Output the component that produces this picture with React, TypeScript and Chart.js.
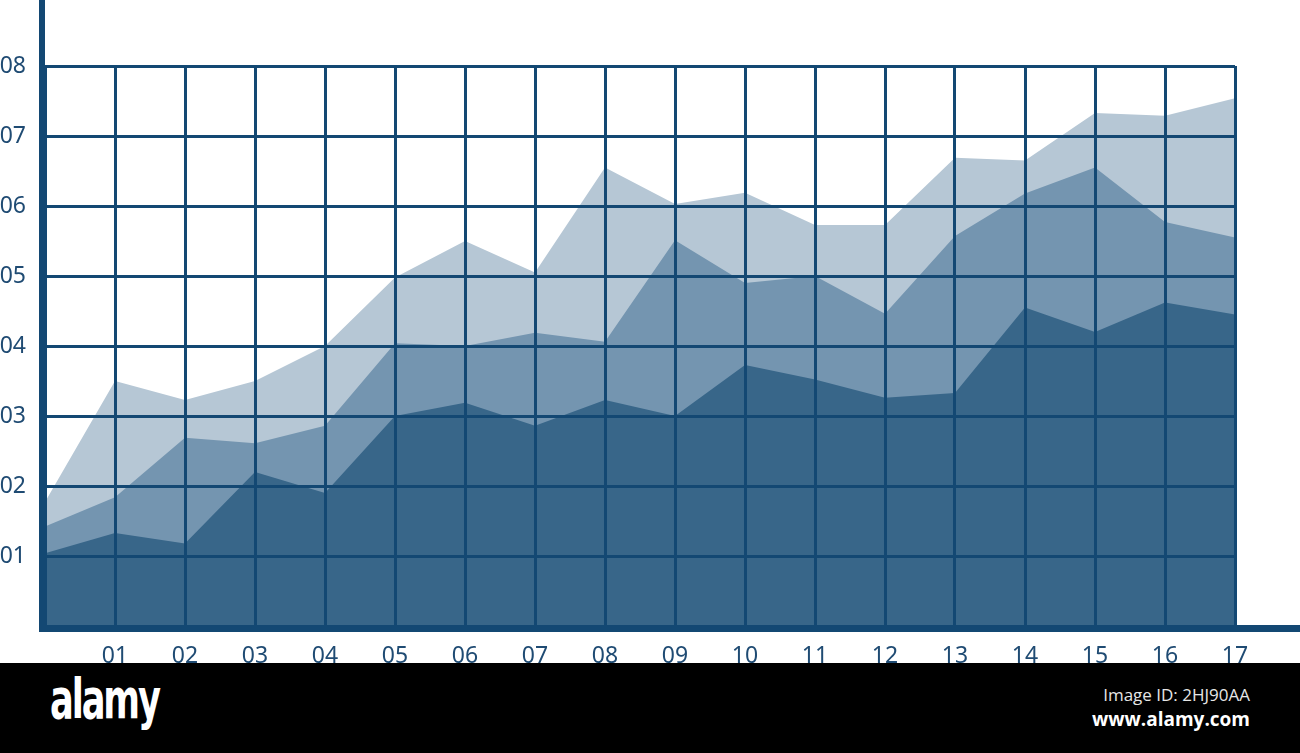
import React, { useEffect, useRef } from "react";
import { Chart, registerables } from "chart.js";

Chart.register(...registerables);

const categories = ["", "01", "02", "03", "04", "05", "06", "07", "08", "09", "10", "11", "12", "13", "14", "15", "16", "17"];
const yTickLabels = ["", "01", "02", "03", "04", "05", "06", "07", "08"];

const lowerSeries = [1.04, 1.33, 1.18, 2.2, 1.9, 3.0, 3.19, 2.86, 3.23, 3.0, 3.73, 3.52, 3.26, 3.33, 4.55, 4.2, 4.62, 4.45];
const middleSeries = [1.42, 1.84, 2.69, 2.61, 2.86, 4.04, 4.0, 4.19, 4.06, 5.51, 4.9, 5.0, 4.46, 5.57, 6.18, 6.55, 5.77, 5.55];
const upperSeries = [1.77, 3.5, 3.23, 3.5, 4.0, 4.98, 5.5, 5.05, 6.55, 6.03, 6.19, 5.73, 5.73, 6.69, 6.65, 7.33, 7.29, 7.54];

const GRID = "#134873";
const TEXT = "#1f4b73";

const axisLines = {
  id: "axisLines",
  afterDraw(chart: any) {
    const { ctx, chartArea, width } = chart;
    ctx.save();
    ctx.fillStyle = GRID;
    ctx.fillRect(chartArea.left - 6, 0, 6, chartArea.bottom + 6);
    ctx.fillRect(chartArea.left - 6, chartArea.bottom - 1, width - chartArea.left + 6, 7);
    ctx.restore();
  },
};

export default function App() {
  const ref = useRef<HTMLCanvasElement | null>(null);

  useEffect(() => {
    if (!ref.current) return;
    const chart = new Chart(ref.current, {
      type: "line",
      data: {
        labels: categories,
        datasets: [
          { data: lowerSeries, backgroundColor: "#386689", fill: "origin", borderWidth: 0, pointRadius: 0, tension: 0 },
          { data: middleSeries, backgroundColor: "#7495b0", fill: "origin", borderWidth: 0, pointRadius: 0, tension: 0 },
          { data: upperSeries, backgroundColor: "#b6c7d5", fill: "origin", borderWidth: 0, pointRadius: 0, tension: 0 },
        ],
      },
      options: {
        animation: false,
        responsive: true,
        maintainAspectRatio: false,
        layout: { padding: { top: 66, right: 65, bottom: 0, left: 0 } },
        plugins: { legend: { display: false }, tooltip: { enabled: false } },
        scales: {
          x: {
            type: "category",
            offset: false,
            z: 1,
            border: { display: false },
            grid: { color: GRID, lineWidth: 3, drawTicks: false, z: 1 },
            ticks: {
              color: TEXT,
              font: { family: "Noto Sans", size: 23 },
              padding: 17,
              maxRotation: 0,
              autoSkip: false,
            },
            afterFit(scale: any) {
              scale.height = 37;
            },
          },
          y: {
            min: 0,
            max: 8,
            z: 1,
            border: { display: false },
            grid: { color: GRID, lineWidth: 3, drawTicks: false, z: 1 },
            ticks: {
              stepSize: 1,
              color: TEXT,
              font: { family: "Noto Sans", size: 23 },
              padding: 19,
              callback: (v: any) => yTickLabels[Number(v)] ?? "",
            },
            afterFit(scale: any) {
              scale.width = 45;
            },
          },
        },
      },
      plugins: [axisLines],
    } as any);
    return () => chart.destroy();
  }, []);

  return (
    <div style={{ position: "fixed", left: 0, top: 0, width: 1300, height: 753, background: "#fff", overflow: "hidden" }}>
      <div style={{ position: "absolute", left: 0, top: 0, width: 1300, height: 663 }}>
        <canvas ref={ref} />
      </div>
      <div style={{ position: "absolute", left: 0, top: 663, width: 1300, height: 90, background: "#000" }}>
        <div
          style={{
            position: "absolute",
            left: 50,
            top: 4,
            color: "#fff",
            fontFamily: "'DejaVu Sans Condensed', 'DejaVu Sans', sans-serif",
            fontWeight: 700,
            fontSize: 56,
            letterSpacing: -3,
            transform: "scaleX(0.7)",
            transformOrigin: "left top",
            lineHeight: "64px",
          }}
        >
          alamy
        </div>
        <div
          style={{
            position: "absolute",
            right: 50,
            top: 22,
            color: "#e6e6e6",
            fontFamily: "'Open Sans', 'Noto Sans', sans-serif",
            fontSize: 17,
            lineHeight: "20px",
            textAlign: "right",
          }}
        >
          Image ID: 2HJ90AA
        </div>
        <div
          style={{
            position: "absolute",
            right: 50,
            top: 44,
            color: "#fff",
            fontFamily: "'Open Sans', 'Noto Sans', sans-serif",
            fontWeight: 700,
            fontSize: 19,
            lineHeight: "24px",
            textAlign: "right",
          }}
        >
          www.alamy.com
        </div>
      </div>
    </div>
  );
}
